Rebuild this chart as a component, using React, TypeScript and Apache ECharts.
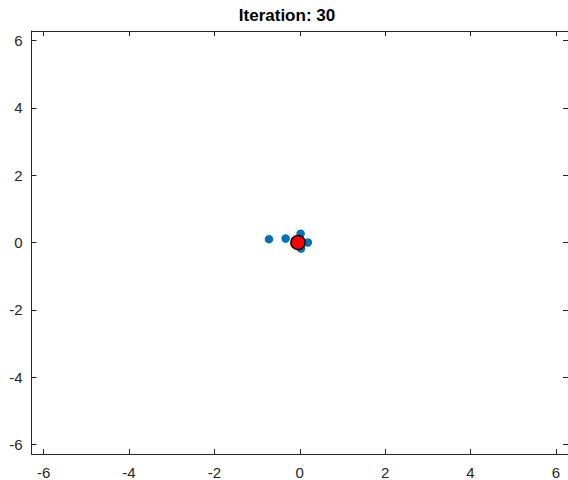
import React, { useEffect, useRef } from "react";
import * as echarts from "echarts";

const titleText = "Iteration: 30";
const xTicks = [-6, -4, -2, 0, 2, 4, 6];
const yTicks = [-6, -4, -2, 0, 2, 4, 6];
const particlesX = [-0.72, -0.33, 0.02, 0.19, 0.03, -0.12];
const particlesY = [0.1, 0.12, 0.26, 0.0, -0.18, -0.03];
const bestX = [-0.04];
const bestY = [0.0];

const LIM = 2 * Math.PI;
const AX = "#262626";
const FONT = "'Liberation Sans', Arial, Helvetica, sans-serif";

export default function App() {
  const ref = useRef<HTMLDivElement>(null);
  useEffect(() => {
    if (!ref.current) return;
    const chart = echarts.init(ref.current, null, { renderer: "svg" });
    const baseAxis = (ticks: number[], show: boolean, margin: number) => ({
      type: "value",
      min: -LIM,
      max: LIM,
      splitLine: { show: false },
      axisLine: { show: true, onZero: false, lineStyle: { color: AX, width: 1 } },
      axisTick: { show: true, inside: true, length: 5, customValues: ticks, lineStyle: { color: AX } },
      axisLabel: {
        show,
        customValues: ticks,
        color: AX,
        fontSize: 15,
        fontFamily: FONT,
        margin,
      },
    });
    chart.setOption({
      animation: false,
      backgroundColor: "#ffffff",
      graphic: [
        {
          type: "text",
          x: 287,
          y: 15,
          style: {
            text: titleText,
            textAlign: "center",
            textVerticalAlign: "middle",
            fontSize: 17,
            fontWeight: "bold",
            fontFamily: FONT,
            fill: "#000000",
          },
        },
      ],
      grid: { left: 31.5, top: 31, width: 538.5, height: 424.5, containLabel: false },
      xAxis: [
        { ...baseAxis(xTicks, true, 11), position: "bottom" },
        { ...baseAxis(xTicks, false, 8), position: "top" },
      ],
      yAxis: [
        { ...baseAxis(yTicks, true, 9), position: "left" },
        { ...baseAxis(yTicks, false, 8), position: "right" },
      ],
      series: [
        {
          type: "scatter",
          xAxisIndex: 0,
          yAxisIndex: 0,
          symbol: "circle",
          symbolSize: 8.5,
          itemStyle: { color: "#0072BD", opacity: 1 },
          data: particlesX.map((x, i) => [x, particlesY[i]]),
        },
        {
          type: "scatter",
          xAxisIndex: 0,
          yAxisIndex: 0,
          symbol: "circle",
          symbolSize: 14,
          itemStyle: { color: "#FF0000", borderColor: "#000000", borderWidth: 1.5, opacity: 1 },
          data: bestX.map((x, i) => [x, bestY[i]]),
        },
      ],
    });
    return () => chart.dispose();
  }, []);
  return (
    <div
      ref={ref}
      style={{ position: "fixed", left: 0, top: 0, width: 568, height: 480, background: "#fff" }}
    />
  );
}
